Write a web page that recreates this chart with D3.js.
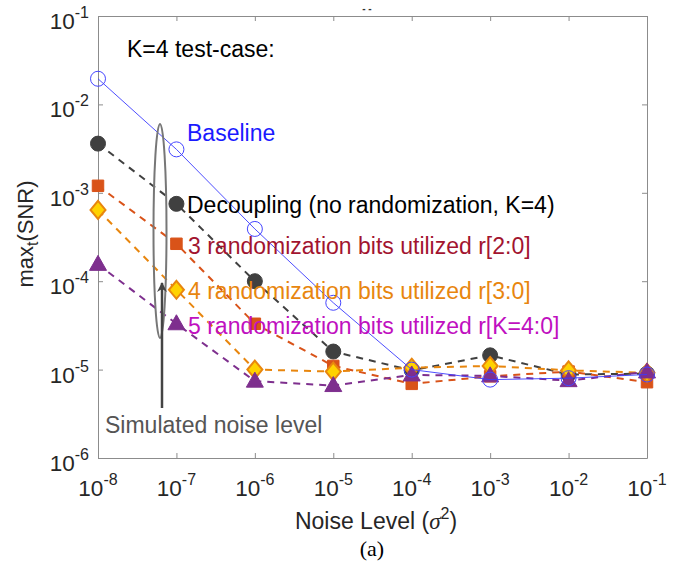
<!DOCTYPE html>
<html>
<head>
<meta charset="utf-8">
<script src="https://cdn.jsdelivr.net/npm/d3@7/dist/d3.min.js"></script>
<style>
  html, body { margin: 0; padding: 0; background: #fff; }
  svg { font-family: "Liberation Sans", Arial, sans-serif; }
</style>
</head>
<body>
<script>
var w = 678, h = 564;

// noise levels (x) and exponents used for tick labels
var noiseLevels = [1e-8, 1e-7, 1e-6, 1e-5, 1e-4, 1e-3, 1e-2, 1e-1];
var xTickExp = [-8, -7, -6, -5, -4, -3, -2, -1];
var yTickExp = [-6, -5, -4, -3, -2, -1];

// series values
var baseline   = [1.95e-2, 3.1e-3, 3.9e-4, 5.7e-5, 1.0e-5, 7.7e-6, 8.0e-6, 8.8e-6];
var decoupling = [3.6e-3, 7.5e-4, 1.0e-4, 1.6e-5, 9.8e-6, 1.45e-5, 8.8e-6, 9.0e-6];
var bits3      = [1.2e-3, 2.65e-4, 3.3e-5, 1.1e-5, 6.9e-6, 8.4e-6, 9.5e-6, 7.2e-6];
var bits4      = [6.4e-4, 8.0e-5, 1.0e-5, 9.5e-6, 1.05e-5, 1.1e-5, 9.8e-6, 9.2e-6];
var bits5      = [1.55e-4, 3.3e-5, 7.4e-6, 6.6e-6, 8.7e-6, 8.5e-6, 7.5e-6, 9.4e-6];

var mLeft = 98, mRight = 647, mTop = 16, mBottom = 458;

var svg = d3.select("body").append("svg").attr("width", w).attr("height", h);

var x = d3.scaleLog().domain([1e-8, 1e-1]).range([mLeft, mRight]);
var y = d3.scaleLog().domain([1e-6, 1e-1]).range([mBottom, mTop]);

//axes box with inward ticks
var axisColor = "#8c8c8c";
function styleAxis(g) {
  g.selectAll("path").attr("stroke", axisColor);
  g.selectAll("line").attr("stroke", axisColor);
  g.selectAll("text").remove();
}
var yTicks = yTickExp.map(function(e){ return Math.pow(10, e); });
svg.append("g").attr("transform", "translate(0," + mBottom + ")")
  .call(d3.axisBottom(x).tickValues(noiseLevels).tickSize(-5).tickSizeOuter(0)).call(styleAxis);
svg.append("g").attr("transform", "translate(0," + mTop + ")")
  .call(d3.axisTop(x).tickValues(noiseLevels).tickSize(-5).tickSizeOuter(0)).call(styleAxis);
svg.append("g").attr("transform", "translate(" + mLeft + ",0)")
  .call(d3.axisLeft(y).tickValues(yTicks).tickSize(-5).tickSizeOuter(0)).call(styleAxis);
svg.append("g").attr("transform", "translate(" + mRight + ",0)")
  .call(d3.axisRight(y).tickValues(yTicks).tickSize(-5).tickSizeOuter(0)).call(styleAxis);

//cut-off title remnant at the top
svg.append("text").attr("x", 367).attr("y", 12).attr("text-anchor", "middle")
  .attr("font-size", 10).attr("font-weight", "bold").attr("fill", "#333").text("- -");

//tick labels 10^n
var xl = svg.selectAll(".xlab").data(xTickExp).enter().append("text")
  .attr("x", function(d){ return x(Math.pow(10, d)); })
  .attr("y", 496)
  .attr("text-anchor", "middle")
  .attr("font-size", 22.5)
  .attr("fill", "#262626");
xl.append("tspan").text("10");
xl.append("tspan").attr("font-size", 16).attr("dy", -11).text(function(d){ return d; });

var yl = svg.selectAll(".ylab").data(yTickExp).enter().append("text")
  .attr("x", 89)
  .attr("y", function(d){ return y(Math.pow(10, d)) + 13; })
  .attr("text-anchor", "end")
  .attr("font-size", 22.5)
  .attr("fill", "#262626");
yl.append("tspan").text("10");
yl.append("tspan").attr("font-size", 16).attr("dy", -11).text(function(d){ return d; });

//axis titles
var xt = svg.append("text").attr("x", 376).attr("y", 529).attr("text-anchor", "middle")
  .attr("font-size", 23).attr("fill", "#262626");
xt.append("tspan").text("Noise Level (");
xt.append("tspan").attr("font-family", "Liberation Serif, serif").attr("font-style", "italic").text("σ");
xt.append("tspan").attr("font-size", 16).attr("dy", -10).text("2");
xt.append("tspan").attr("dy", 10).text(")");

var yt = svg.append("text").attr("transform", "translate(33,234) rotate(-90)")
  .attr("text-anchor", "middle").attr("font-size", 22).attr("fill", "#262626");
yt.append("tspan").text("max");
yt.append("tspan").attr("font-size", 16).attr("dy", 5).text("t");
yt.append("tspan").attr("dy", -5).text("(SNR)");

svg.append("text").attr("x", 372).attr("y", 556).attr("text-anchor", "middle")
  .attr("font-family", "Liberation Serif, serif").attr("font-size", 22).attr("fill", "#000").text("(a)");

//series
var series = [
  { vals: decoupling, color: "#404040", fill: "#404040", stroke: "#404040", sym: "circle", dash: "7,6", lw: 2 },
  { vals: bits3, color: "#D95319", fill: "#D95319", stroke: "#D95319", sym: "square", dash: "7,6", lw: 2 },
  { vals: bits4, color: "#E8860E", fill: "#FFD200", stroke: "#E8860E", sym: "diamond", dash: "7,6", lw: 2 },
  { vals: bits5, color: "#7E2F8E", fill: "#7E2F8E", stroke: "#7E2F8E", sym: "triangle", dash: "7,6", lw: 2 },
  { vals: baseline, color: "#3a3aff", fill: "none", stroke: "#4545ff", sym: "open", dash: null, lw: 0.9 }
];

var line = d3.line()
  .x(function(d, i){ return x(noiseLevels[i]); })
  .y(function(d){ return y(d); });

var diamond = { draw: function(ctx, size) {
  ctx.moveTo(0, -9); ctx.lineTo(7.5, 0); ctx.lineTo(0, 9); ctx.lineTo(-7.5, 0); ctx.closePath();
} };
var tri = { draw: function(ctx, size) {
  ctx.moveTo(0, -9); ctx.lineTo(8.5, 6); ctx.lineTo(-8.5, 6); ctx.closePath();
} };

function symPath(s) {
  if (s == "circle") return d3.symbol().type(d3.symbolCircle).size(Math.PI * 7.5 * 7.5)();
  if (s == "open") return d3.symbol().type(d3.symbolCircle).size(Math.PI * 7.5 * 7.5)();
  if (s == "square") return d3.symbol().type(d3.symbolSquare).size(132)();
  if (s == "diamond") return d3.symbol().type(diamond)();
  return d3.symbol().type(tri)();
}

series.forEach(function(s){
  svg.append("path").datum(s.vals)
    .attr("d", line)
    .attr("fill", "none")
    .attr("stroke", s.color)
    .attr("stroke-width", s.lw)
    .attr("stroke-dasharray", s.dash);
  svg.selectAll(null).data(s.vals).enter().append("path")
    .attr("d", symPath(s.sym))
    .attr("transform", function(d, i){ return "translate(" + x(noiseLevels[i]) + "," + y(d) + ")"; })
    .attr("fill", s.fill)
    .attr("stroke", s.stroke)
    .attr("stroke-width", s.sym == "diamond" ? 2 : 1);
});

//annotations
var notes = [
  { t: "K=4 test-case:", x: 127, y: 57, c: "#000" },
  { t: "Baseline", x: 187, y: 141, c: "#1a1aff" },
  { t: "Decoupling (no randomization, K=4)", x: 187, y: 213, c: "#000" },
  { t: "3 randomization bits utilized r[2:0]", x: 188, y: 254, c: "#A2142F" },
  { t: "4 randomization bits utilized r[3:0]", x: 188, y: 299, c: "#E8860E" },
  { t: "5 randomization bits utilized r[K=4:0]", x: 188, y: 334, c: "#C010C0" },
  { t: "Simulated noise level", x: 105, y: 433, c: "#555" }
];
svg.selectAll(".note").data(notes).enter().append("text")
  .attr("x", function(d){ return d.x; })
  .attr("y", function(d){ return d.y; })
  .attr("font-size", 23)
  .attr("fill", function(d){ return d.c; })
  .text(function(d){ return d.t; });

//ellipse + arrow
svg.append("ellipse").attr("cx", 160).attr("cy", 231).attr("rx", 6.5).attr("ry", 107)
  .attr("fill", "none").attr("stroke", "#777").attr("stroke-width", 2);
svg.append("defs").append("marker").attr("id", "ah").attr("viewBox", "0 0 10 10")
  .attr("refX", 9).attr("refY", 5).attr("markerWidth", 4).attr("markerHeight", 4).attr("orient", "auto")
  .append("path").attr("d", "M0,0 L10,5 L0,10 L3,5 Z").attr("fill", "#444");
svg.append("line").attr("x1", 162).attr("y1", 408).attr("x2", 162).attr("y2", 283)
  .attr("stroke", "#444").attr("stroke-width", 2.5).attr("marker-end", "url(#ah)");
</script>
</body>
</html>
